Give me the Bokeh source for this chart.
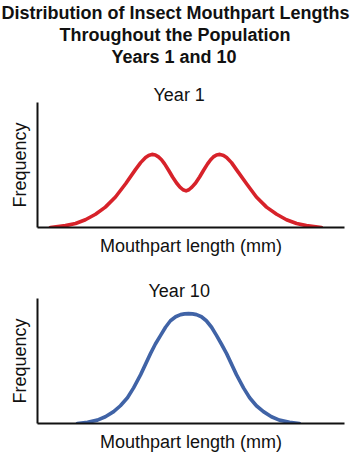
from bokeh.plotting import figure
from bokeh.models import Title, FixedTicker, Range1d
from bokeh.layouts import column
from bokeh.embed import file_html
from bokeh.resources import INLINE

# ---- text ----
title_lines = ["Distribution of Insect Mouthpart Lengths",
               "Throughout the Population",
               "Years 1 and 10"]
panel_titles = ["Year 1", "Year 10"]
x_label = "Mouthpart length (mm)"
y_label = "Frequency"

# ---- data (arbitrary units) ----
year1_length = [0.42, 0.91, 1.24, 1.56, 1.89, 2.21, 2.54, 2.87, 3.19, 3.36, 3.52,
                3.62, 3.73, 3.84, 3.94, 4.04, 4.14, 4.27, 4.40, 4.53, 4.64, 4.74,
                4.84,
                4.93, 5.03, 5.15, 5.28, 5.41, 5.54, 5.64, 5.73, 5.83, 5.94, 6.06,
                6.16, 6.32, 6.48, 6.81, 7.13, 7.46, 7.79, 8.11, 8.44, 8.76, 9.25]
year1_freq = [0.0, 1.5, 3.2, 6.2, 10.6, 16.3, 24.4, 35.0, 46.3, 51.9, 56.0,
              57.6, 58.5, 58.0, 56.5, 54.2, 50.9, 45.8, 40.4, 35.6, 32.3, 30.2,
              29.3,
              30.2, 32.3, 35.6, 40.4, 45.8, 50.9, 54.2, 56.5, 58.0, 58.5, 57.6,
              56.0, 51.9, 46.3, 35.0, 24.4, 16.3, 10.6, 6.2, 3.2, 1.5, 0.0]

year10_length = [1.30, 1.63, 1.95, 2.21, 2.48, 2.70, 2.93, 3.13, 3.36, 3.52, 3.68,
                 3.84, 4.01, 4.17, 4.33, 4.50, 4.66, 4.79, 4.92, 5.05, 5.18, 5.34,
                 5.50, 5.67, 5.83, 5.99, 6.16, 6.32, 6.48, 6.71, 6.91, 7.13, 7.36,
                 7.62, 7.88, 8.21, 8.53]
year10_freq = [0.0, 1.0, 2.7, 5.4, 9.5, 14.2, 20.6, 28.5, 39.1, 47.5, 55.9,
               63.6, 70.5, 77.0, 82.2, 85.4, 87.1, 87.7, 87.9, 87.7, 87.1, 85.4,
               82.2, 77.0, 70.5, 63.6, 55.9, 47.5, 39.1, 28.5, 20.6, 14.2, 9.5,
               5.4, 2.7, 1.0, 0.0]

FONT = "Liberation Sans"
TEXT = "#111111"
RED = "#d7222a"
BLUE = "#4063a6"


def style_title(t, bold, offset, standoff, size="18px"):
    t.text_font = FONT
    t.text_font_size = size
    t.text_font_style = "bold" if bold else "normal"
    t.text_color = TEXT
    t.align = "left"
    t.offset = offset
    t.standoff = standoff


def make_panel(height, border_top, xs, ys, color):
    p = figure(width=352, height=height, output_backend="svg", toolbar_location=None,
               x_range=Range1d(0, 10), y_range=Range1d(0, 100),
               min_border_left=37, min_border_right=8, min_border_top=border_top,
               min_border_bottom=0)
    p.line(xs, ys, line_color=color, line_width=3.6, line_join="round", line_cap="round")
    for ax in (p.xaxis, p.yaxis):
        ax.ticker = FixedTicker(ticks=[])
        ax.major_tick_line_color = None
        ax.minor_tick_line_color = None
        ax.major_label_text_font_size = "0px"
        ax.axis_line_color = TEXT
        ax.axis_line_width = 2
        ax.axis_label_text_font = FONT
        ax.axis_label_text_font_size = "18px"
        ax.axis_label_text_font_style = "normal"
        ax.axis_label_text_color = TEXT
        ax.axis_label_standoff = 8
    p.xaxis.axis_label = x_label
    p.yaxis.axis_label = y_label
    p.xgrid.visible = False
    p.ygrid.visible = False
    p.outline_line_color = None
    return p


# top panel: main title (3 bold lines) + "Year 1"
p1 = make_panel(258, 0, year1_length, year1_freq, RED)
p1.title.text = title_lines[0]
style_title(p1.title, True, -36, 0)
t_year1 = Title(text=panel_titles[0])
style_title(t_year1, False, 116, -5)
p1.add_layout(t_year1, "above")
t_gap = Title(text=" ")
style_title(t_gap, False, 0, 0, size="15px")
p1.add_layout(t_gap, "above")
t_line3 = Title(text=title_lines[2])
style_title(t_line3, True, 74, 0)
p1.add_layout(t_line3, "above")
t_line2 = Title(text=title_lines[1])
style_title(t_line2, True, 22, 0)
p1.add_layout(t_line2, "above")

# bottom panel: "Year 10"
p2 = make_panel(196, 40, year10_length, year10_freq, BLUE)
p2.title.text = panel_titles[1]
style_title(p2.title, False, 111, -5)

layout = column(p1, p2, spacing=0)

open("out.html", "w").write(file_html(layout, INLINE))
